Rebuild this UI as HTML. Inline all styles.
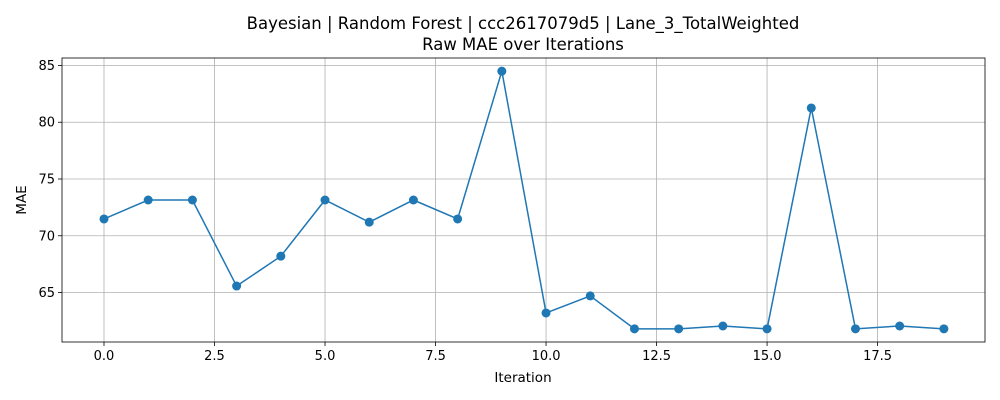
<!DOCTYPE html>
<html><head><meta charset="utf-8"><style>body{margin:0;background:#fff}svg{display:block;font-family:"DejaVu Sans","Liberation Sans",sans-serif}</style></head>
<body>
<svg id="chart" width="1000" height="400" xmlns="http://www.w3.org/2000/svg">
<text x="523" y="29" font-size="16.5" text-anchor="middle">Bayesian | Random Forest | ccc2617079d5 | Lane_3_TotalWeighted</text>
<text x="523" y="50" font-size="16.5" text-anchor="middle">Raw MAE over Iterations</text>
<text x="523" y="382" font-size="13.5" text-anchor="middle">Iteration</text>
<text transform="translate(26,200) rotate(-90)" font-size="13.5" text-anchor="middle">MAE</text>
</svg>
<script>
const iterations=[0,1,2,3,4,5,6,7,8,9,10,11,12,13,14,15,16,17,18,19];
const maeValues=[71.48,73.15,73.15,65.57,68.2,73.15,71.2,73.15,71.48,84.5,63.2,64.7,61.8,61.8,62.05,61.8,81.26,61.8,62.05,61.8];
const xTicks=[0,2.5,5,7.5,10,12.5,15,17.5];
const xTickLabels=["0.0","2.5","5.0","7.5","10.0","12.5","15.0","17.5"];
const yTicks=[65,70,75,80,85];
const yTickLabels=["65","70","75","80","85"];
const L=62,R=985,T=58,B=342;
const xMin=-0.95,xMax=19.93,yMin=60.64,yMax=85.66;
const xs=v=>L+(v-xMin)/(xMax-xMin)*(R-L);
const ys=v=>B-(v-yMin)/(yMax-yMin)*(B-T);
const svg=document.getElementById('chart');const NS='http://www.w3.org/2000/svg';
function mk(t,a,p){const e=document.createElementNS(NS,t);for(const k in a)e.setAttribute(k,a[k]);(p||svg).appendChild(e);return e;}
const grid=mk('g',{});


xTicks.forEach((t,i)=>{const x=xs(t);
const g=mk('line',{x1:x,x2:x,y1:T,y2:B,stroke:'#b0b0b0','stroke-width':0.8},grid);


mk('line',{x1:x,x2:x,y1:B,y2:B+4,stroke:'#000','stroke-width':0.8});
const tx=mk('text',{x:x,y:B+18,'font-size':13,'text-anchor':'middle'});tx.textContent=xTickLabels[i];

});
yTicks.forEach((t,i)=>{const y=ys(t);
const g=mk('line',{x1:L,x2:R,y1:y,y2:y,stroke:'#b0b0b0','stroke-width':0.8},grid);


mk('line',{x1:L-4,x2:L,y1:y,y2:y,stroke:'#000','stroke-width':0.8});
const tx=mk('text',{x:L-7,y:y+4.5,'font-size':13,'text-anchor':'end'});tx.textContent=yTickLabels[i];

});
const frame=mk('rect',{x:L,y:T,width:R-L,height:B-T,fill:'none',stroke:'#000','stroke-width':0.8});


const line=mk('polyline',{points:iterations.map((d,i)=>xs(d)+','+ys(maeValues[i])).join(' '),fill:'none',stroke:'#1f77b4','stroke-width':1.5});


iterations.forEach((d,i)=>{const c=mk('circle',{cx:xs(d),cy:ys(maeValues[i]),r:4.5,fill:'#1f77b4'});

});
</script>
</body></html>
